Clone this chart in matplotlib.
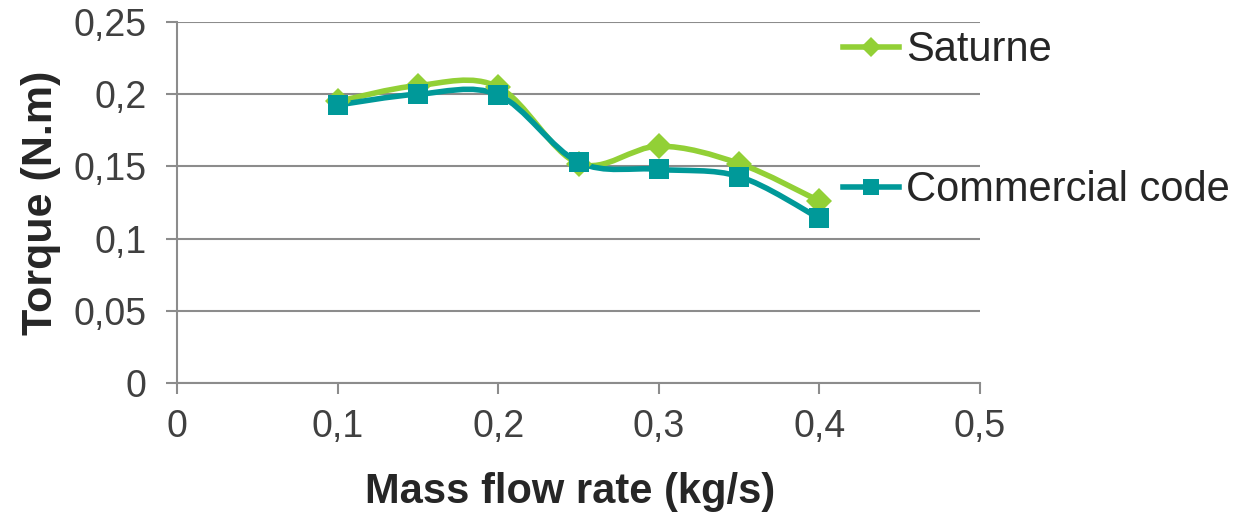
import matplotlib.pyplot as plt
import numpy as np
from matplotlib.lines import Line2D
from matplotlib.patches import PathPatch
from matplotlib.path import Path as MPath

plt.rcParams["font.family"] = ["Liberation Sans", "DejaVu Sans"]

mass_flow = [0.1, 0.15, 0.2, 0.25, 0.3, 0.35, 0.4]
torque_saturne = [0.195, 0.206, 0.205, 0.152, 0.164, 0.152, 0.126]
torque_commercial = [0.1925, 0.200, 0.1995, 0.153, 0.148, 0.143, 0.114]

GREEN = "#92D036"
TEAL = "#009999"
GRID = "#8C8C8C"
TEXT = "#262626"


def _smooth_path(x, y):
    # Excel-like smoothed line: cubic Bezier with Catmull-Rom style control points
    p = np.column_stack([x, y]).astype(float)
    n = len(p)
    verts = [p[0]]
    codes = [MPath.MOVETO]
    for i in range(n - 1):
        p0 = p[max(i - 1, 0)]
        p1 = p[i]
        p2 = p[i + 1]
        p3 = p[min(i + 2, n - 1)]
        c1 = p1 + (p2 - p0) / 6.0
        c2 = p2 - (p3 - p1) / 6.0
        verts += [c1, c2, p2]
        codes += [MPath.CURVE4] * 3
    return MPath(verts, codes)


fig = plt.figure(figsize=(12.6, 5.15), dpi=100)
ax = fig.add_axes([0.1405, 0.2563, 0.6373, 0.701])

series = [
    ("Saturne", torque_saturne, GREEN, "D", 13.5),
    ("Commercial code", torque_commercial, TEAL, "s", 14.5),
]
handles = []
for label, vals, color, marker, ms in series:
    patch = PathPatch(_smooth_path(mass_flow, vals), facecolor="none", edgecolor=color,
                      lw=4.0, transform=ax.transData, zorder=3, capstyle="round", joinstyle="round")
    ax.add_patch(patch)
    ax.plot(mass_flow, vals, linestyle="none", marker=marker, markersize=ms, color=color,
            markeredgewidth=0, zorder=4)
    handles.append(Line2D([], [], color=color, lw=4.0, marker=marker, markersize=ms * 0.75,
                          markeredgewidth=0, label=label))

ax.set_xlim(0, 0.5)
ax.set_ylim(0, 0.25)
ax.set_xticks(np.arange(0, 0.51, 0.1))
ax.set_yticks(np.arange(0, 0.251, 0.05))
ax.set_xticklabels(["0", "0,1", "0,2", "0,3", "0,4", "0,5"])
ax.set_yticklabels(["0", "0,05", "0,1", "0,15", "0,2", "0,25"])

ax.grid(axis="y", color=GRID, lw=1.5)
ax.set_axisbelow(True)
for side in ["top", "right"]:
    ax.spines[side].set_visible(False)
for side in ["left", "bottom"]:
    ax.spines[side].set_color(GRID)
    ax.spines[side].set_linewidth(1.5)
ax.tick_params(axis="both", direction="out", length=8, width=1.5, color=GRID,
               labelsize=27, labelcolor="#404040")
ax.tick_params(axis="x", pad=11)
ax.tick_params(axis="y", pad=14)

ax.set_xlabel("Mass flow rate (kg/s)", fontsize=30, fontweight="bold", color=TEXT, labelpad=19)
ax.xaxis.label.set_x(0.49)
ax.set_ylabel("Torque (N.m)", fontsize=31, fontweight="bold", color=TEXT, labelpad=9)

fig.legend(handles=handles, loc="upper left", bbox_to_anchor=(0.646, 0.998), frameon=False,
           fontsize=30, labelcolor="#262626", handlelength=1.35, handletextpad=0.17,
           labelspacing=2.4, borderpad=0.2)

fig.savefig("out.png", dpi=100)
